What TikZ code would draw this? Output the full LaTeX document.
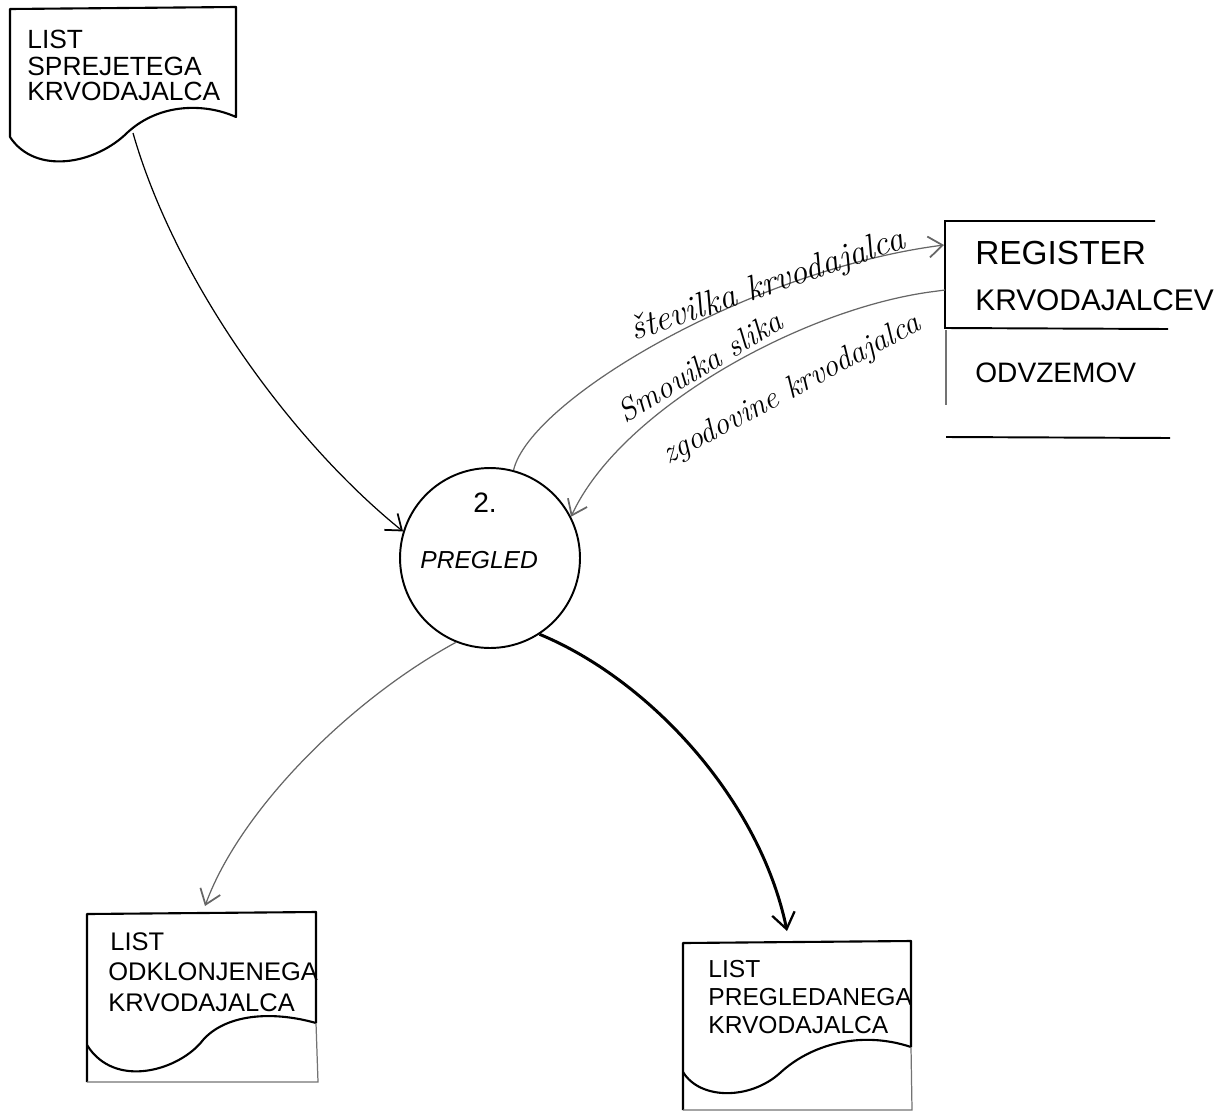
\documentclass[tikz,border=0pt]{standalone}
\usepackage{fontspec}
\newfontfamily\capsfont{Liberation Sans}
\usetikzlibrary{arrows.meta}

\tikzset{
  docline/.style={line width=1.2pt, line join=round},
  faintline/.style={line width=0.7pt, black!55},
  storeline/.style={line width=1.1pt},
  flow/.style={line width=0.7pt, -{Straight Barb[length=8pt,width=12pt,line width=1pt]}},
  faintflow/.style={flow, black!60},
  boldflow/.style={line width=1.7pt, -{Straight Barb[length=9pt,width=13pt,line width=1.3pt]}},
  caps/.style={inner sep=0pt, anchor=base west, font=\capsfont\fontsize{#1}{#1}\selectfont},
  caps/.default=15pt,
  hand/.style={inner sep=0pt, font=\itshape\fontsize{#1}{#1}\selectfont},
  hand/.default=18pt
}

\begin{document}
\begin{tikzpicture}[x=0.02cm, y=-0.02cm]
\useasboundingbox (0,0) rectangle (1226,1112);

% --- document: received donor form (top left)
\draw[docline] (10,137) -- (10,9) -- (236,7) -- (236,117)
  .. controls (205,103) and (160,103) .. (128,132)
  .. controls (95,165) and (35,175) .. (10,137);
\node[caps] (d1a) at (27,48)  {LIST};
\node[caps] (d1b) at (27,75)  {SPREJETEGA};
\node[caps] (d1c) at (27,100) {KRVODAJALCA};
\coordinate (d1out) at (133,133);

% --- process 2: examination
\node[circle, draw, line width=1.1pt, minimum size=3.6cm, inner sep=0pt] (proc) at (490,558) {};
\node[caps=16pt] (pnum) at (473,512) {2.};
\node[caps=14pt, font=\capsfont\itshape\fontsize{14}{14}\selectfont] (pname) at (420,568) {PREGLED};

% --- data store: donor register
\draw[storeline] (1155,221) -- (945,221) -- (945,328) -- (1168,329);
\draw[faintline] (946,330) -- (946,405);
\draw[storeline] (946,437) -- (1170,438);
\node[caps=19pt] (s1) at (975,264) {REGISTER};
\node[caps=17pt] (s2) at (975,310) {KRVODAJALCEV};
\node[caps=16pt] (s3) at (975,382) {ODVZEMOV};
\coordinate (regin)  at (944,245);
\coordinate (regout) at (945,290);

% --- document: rejected donor form (bottom left)
\draw[docline] (316,1023) -- (316,912) -- (87,914) -- (87,1082);
\draw[docline] (316,1023)
  .. controls (270,1010) and (225,1015) .. (203,1040)
  .. controls (180,1070) and (115,1090) .. (87,1045);
\draw[faintline] (87,1082) -- (318,1082) -- (316,1023);
\node[caps=14.5pt] (d2a) at (110,950)  {LIST};
\node[caps=14.5pt] (d2b) at (108,980)  {ODKLONJENEGA};
\node[caps=14.5pt] (d2c) at (108,1011) {KRVODAJALCA};
\coordinate (d2in) at (205,906);

% --- document: examined donor form (bottom right)
\draw[docline] (911,1047) -- (911,941) -- (683,943) -- (683,1110);
\draw[docline] (911,1047)
  .. controls (860,1030) and (810,1045) .. (780,1073)
  .. controls (750,1100) and (700,1100) .. (683,1072);
\draw[faintline] (683,1110) -- (912,1110) -- (911,1047);
\node[caps=14pt] (d3a) at (708,977)  {LIST};
\node[caps=14pt] (d3b) at (708,1005) {PREGLEDANEGA};
\node[caps=14pt] (d3c) at (708,1033) {KRVODAJALCA};
\coordinate (d3in) at (787,931);

% --- data flows
\draw[flow] (d1out) .. controls (175,280) and (290,440) .. (proc.163);
\draw[faintflow] (proc.75) .. controls (530,400) and (750,270) .. (regin);
\draw[faintflow] (regout) -- (930,292) .. controls (800,310) and (620,410) .. (proc.27);
\draw[faintflow] (proc.248) .. controls (350,700) and (240,810) .. (d2in);
\draw[boldflow] (proc.303) .. controls (650,680) and (760,800) .. (d3in);

% --- flow labels
\node[hand=20pt, rotate=19] (lab1) at (768,286) {številka krvodajalca};
\node[hand=18pt, rotate=31] (lab2) at (700,366) {Smouika slika};
\node[hand=18pt, rotate=28] (lab3) at (792,390) {zgodovine krvodajalca};
\end{tikzpicture}
\end{document}
